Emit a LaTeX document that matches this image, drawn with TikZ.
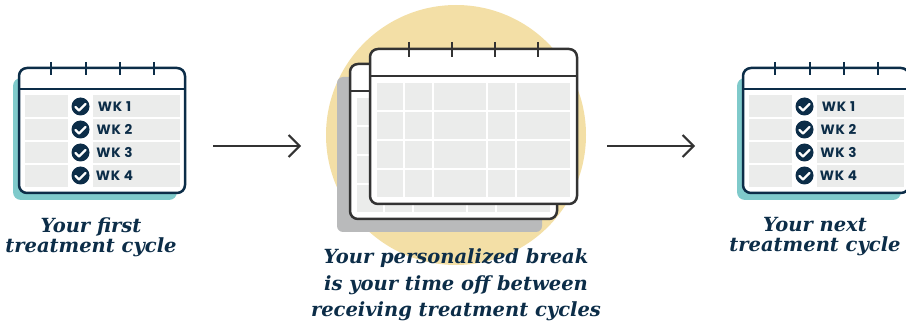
\documentclass[tikz,border=0pt]{standalone}
\usepackage{fontspec}
\usetikzlibrary{arrows.meta}
\newfontfamily\capfont{DejaVu Serif}
\newfontfamily\wkfont[LetterSpace=6]{Poppins}
\definecolor{navy}{HTML}{0C2D48}
\definecolor{tealshade}{HTML}{7FCACB}
\definecolor{cellgray}{HTML}{EBECEB}
\definecolor{sunny}{HTML}{F3DFA6}
\definecolor{darkline}{HTML}{333333}
\definecolor{shadegray}{HTML}{B9BABB}
\begin{document}
\begin{tikzpicture}[x=1pt,y=-1pt]

    \tikzset{
      frame/.style={
        fill=white,
        line width=2.5pt,
        rounded corners=8pt,
      },
      weeklabel/.style={
        font=\wkfont\bfseries\fontsize{13.5}{13.5}\selectfont,
        text=navy,
        inner sep=0pt,
      },
      caption/.style={
        font=\capfont\bfseries\itshape\fontsize{19.5}{20}\selectfont,
        text=navy,
        align=center,
        inner sep=0pt,
      },
      widecaption/.style={
        caption,
        font=\capfont\bfseries\itshape\fontsize{19.5}{26.5}\selectfont,
      },
      flow/.style={
        draw=darkline,
        line width=2pt,
        -{Straight Barb[length=11pt,width=22pt,line width=2pt]},
      },
    }
    \useasboundingbox (0,0) rectangle (906,326);
    \clip (0,0) rectangle (906,326);

    % first and next cycle
    \foreach \ox in {0,724} {
      \begin{scope}[shift={(\ox,0)}]
        \fill[tealshade,rounded corners=8pt] (13,78) rectangle (177,200);
        \draw[frame,draw=navy] (19,68) rectangle (185,193);
        \draw[navy,line width=2.5pt] (19,89) -- (185,89);
        \foreach \tx in {51,86,120,154}
          \draw[navy,line width=2.5pt] (\tx,62) -- (\tx,75);
        \fill[cellgray] (25,95) rectangle (180,187);
        \fill[white] (68,95) rectangle (93,187);
        \foreach \ry in {118,141,164}
          \draw[white,line width=1.5pt] (25,\ry) -- (180,\ry);
        \foreach \w in {1,...,4} {
          \fill[navy] (80.5,83.5+23*\w) circle (9);
          \draw[white,line width=2.2pt,line cap=round,line join=round]
            (75.5,84+23*\w) -- (79,87.5+23*\w) -- (85.5,81+23*\w);
          \node[weeklabel] (wk\w-\ox) at (114.5,83.5+23*\w) {WK \w};
        }
      \end{scope}
    }

    % the break
    \fill[sunny] (456,135) circle (130);
    \fill[shadegray,rounded corners=6pt] (337,77) rectangle (542,232);
    \foreach \sx/\sy in {-20/15,0/0} {
      \begin{scope}[shift={(\sx,\sy)}]
        \draw[frame,draw=darkline] (370,49) rectangle (577,204);
        \draw[darkline,line width=2.5pt] (370,76) -- (577,76);
        \fill[cellgray] (377,83) rectangle (570,197);
        \foreach \cx in {404,433,487,516}
          \draw[white,line width=2pt] (\cx,83) -- (\cx,197);
        \foreach \ry in {111,140,169}
          \draw[white,line width=2pt] (377,\ry) -- (570,\ry);
      \end{scope}
    }
    \foreach \tx in {409,452,495,538}
      \draw[darkline,line width=2.5pt] (\tx,42) -- (\tx,57);

    % arrows
    \coordinate (go1) at (213,146);
    \coordinate (to1) at (301,146);
    \coordinate (go2) at (607,146);
    \coordinate (to2) at (695,146);
    \draw[flow] (go1) -- (to1);
    \draw[flow] (go2) -- (to2);

    % captions
    \node[caption] (first) at (91,237) {Your first\\treatment cycle};
    \node[widecaption] (pause) at (456,285)
      {Your personalized break\\is your time off between\\receiving treatment cycles};
    \node[caption] (next) at (815,237) {Your next\\treatment cycle};

\end{tikzpicture}
\end{document}
